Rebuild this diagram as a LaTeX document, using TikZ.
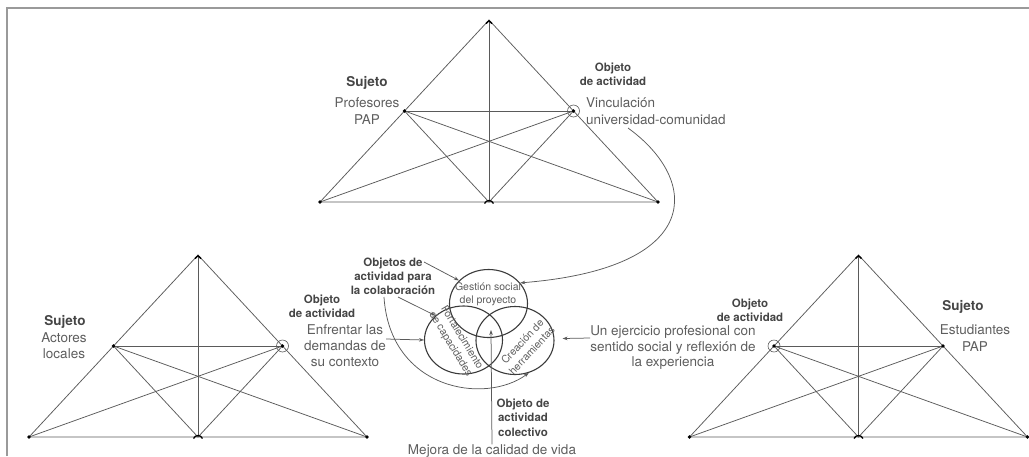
\documentclass[tikz,border=0pt]{standalone}
\usepackage{fontspec}
\setmainfont{TeX Gyre Heros}
\usetikzlibrary{arrows.meta,shapes.geometric}
\definecolor{framegray}{HTML}{9A9A9A}
\definecolor{linegray}{HTML}{5A5A5A}
\definecolor{txtgray}{HTML}{5E5E5E}
\definecolor{boldgray}{HTML}{454545}
\definecolor{ringdark}{HTML}{3A3A3A}

\tikzset{
  triline/.style={draw=linegray,line width=0.75pt},
  objring/.style={draw=linegray,line width=0.6pt},
  venn/.style={ellipse,draw=ringdark,line width=1.1pt,minimum width=78pt,minimum height=68pt,inner sep=0pt},
  plain/.style={text=txtgray,align=center,inner sep=0pt,font=\fontsize{13.5}{16.5}\selectfont},
  subjlab/.style={text=boldgray,inner sep=0pt,font=\fontsize{13.5}{16}\selectfont\bfseries},
  objlab/.style={text=boldgray,align=center,inner sep=0pt,font=\fontsize{11.5}{14}\selectfont\bfseries},
  vennlab/.style={text=txtgray,align=center,inner sep=0pt,font=\fontsize{10.5}{13}\selectfont},
  conn/.style={draw=linegray,line width=0.75pt,-{Stealth[length=5pt,width=3.6pt]}},
  % activity triangle: apex at the pic origin, base 182 below
  acttri/.pic={
    \coordinate (-a)  at (0,0);
    \coordinate (-bl) at (-169,182);
    \coordinate (-bm) at (0,182);
    \coordinate (-br) at (169,182);
    \coordinate (-ml) at (-84.5,91);
    \coordinate (-mr) at (84.5,91);
    \draw[triline] (-a) -- (-bl) -- (-br) -- cycle;
    \draw[triline] (-a) -- (-bm);
    \draw[triline] (-ml) -- (-mr);
    \draw[triline] (-ml) -- (-br);
    \draw[triline] (-mr) -- (-bl);
    \draw[triline] (-ml) -- (-bm) -- (-mr);
    \foreach \v in {bl,br,ml,mr} \fill (-\v) circle[radius=1.8pt];
    \draw[line width=1.4pt] (-3,3.5) -- (0,0.8) -- (3,3.5);
    \draw[line width=1.3pt] (-4.5,183.5) .. controls (-2.5,179.5) and (2.5,179.5) .. (4.5,183.5);
  }
}

\begin{document}
\begin{tikzpicture}[x=1pt,y=-1pt]
\useasboundingbox (0,0) rectangle (1029,456);

% frame
\draw[framegray,line width=2pt] (7,456) -- (7,8) -- (1029,8);

% the three activity systems
\pic (tt) at (489,20) {acttri};
\pic (lt) at (198,255) {acttri};
\pic (rt) at (858.5,255) {acttri};
\draw[objring] (tt-mr) circle[radius=6pt];
\draw[objring] (lt-mr) circle[radius=6pt];
\draw[objring] (rt-ml) circle[radius=6pt];

% upper system labels
\node[subjlab] (ttsuj) at (367,83) {Sujeto};
\node[plain] (ttsubj) at (367,111) {Profesores\\PAP};
\node[objlab] (ttobjt) at (613,74) {Objeto\\de actividad};
\node[plain,align=left,anchor=west,font=\fontsize{13.5}{17.5}\selectfont] (ttobj) at (586,111) {Vinculación\\universidad-comunidad};

% left system labels
\node[subjlab] (ltsuj) at (65,322) {Sujeto};
\node[plain,font=\fontsize{13.5}{16}\selectfont] (ltsubj) at (64,346) {Actores\\locales};
\node[objlab] (ltobjt) at (322,306) {Objeto\\de actividad};
\node[plain,font=\fontsize{13.5}{16}\selectfont] (enfr) at (345,346) {Enfrentar las\\demandas de\\su contexto};

% right system labels
\node[objlab] (rtobjt) at (750,310) {Objeto\\de actividad};
\node[plain,font=\fontsize{13.5}{15.5}\selectfont] (ejer) at (673,348) {Un ejercicio profesional con\\sentido social y reflexión de\\la experiencia};
\node[subjlab] (rtsuj) at (963,307) {Sujeto};
\node[plain,font=\fontsize{13.5}{17}\selectfont] (rtsubj) at (975,338.5) {Estudiantes\\PAP};

% shared objects
\node[venn] (gest) at (488.5,303.5) {};
\node[venn] (fort) at (463.5,340) {};
\node[venn] (creac) at (515,340.5) {};
\node[vennlab] (gestlab) at (488,294.5) {Gestión social\\del proyecto};
\node[vennlab,rotate=-59] (fortlab) at (456,341) {Fortalecimiento\\de capacidades};
\node[vennlab,rotate=47] (creaclab) at (527,346) {Creación de\\herramientas};

\node[objlab] (colab) at (393,276) {Objetos de\\actividad para\\la colaboración};
\node[objlab,font=\fontsize{11.5}{14.5}\selectfont\bfseries] (colec) at (523,417.5) {Objeto de\\actividad\\colectivo};
\node[plain] (mejora) at (492,451) {Mejora de la calidad de vida};

% connectors
\coordinate (colabA) at (424,262);
\coordinate (colabB) at (398,297);
\coordinate (colabC) at (384,297);
\coordinate (vincT) at (628,128);
\coordinate (lens) at (491,330);

\draw[conn] (colabA) -- (gest.142);
\draw[conn] (colabB) -- (fort.139);
\draw[conn] (colabC) .. controls (390,390) and (485,405) .. (creac.-67);
\draw[conn] ([yshift=7pt]enfr.east) -- (fort.180);
\draw[conn] ([yshift=10pt]ejer.west) -- ([xshift=8pt,yshift=2pt]creac.east);
\draw[conn] (mejora.north) -- (lens);
\draw[conn] (vincT) .. controls (700,180) and (705,268) .. (gest.33);
\end{tikzpicture}
\end{document}
